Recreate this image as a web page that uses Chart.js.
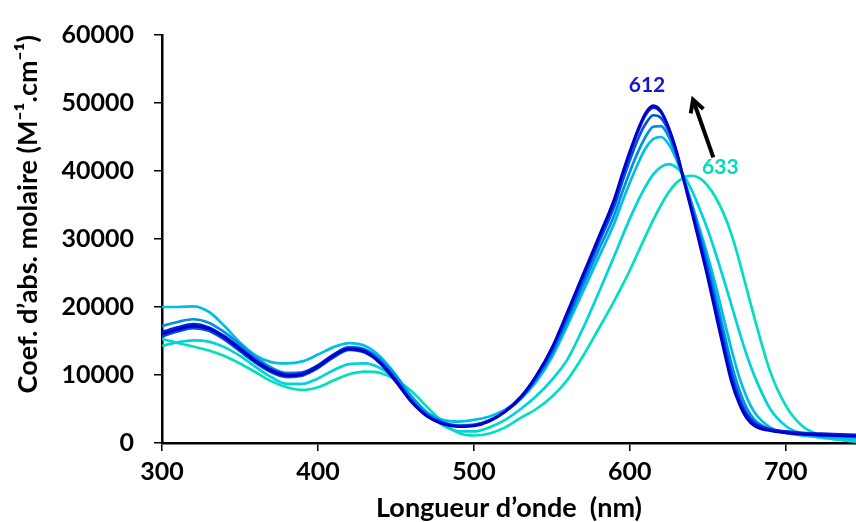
<!DOCTYPE html>
<html>
<head>
<meta charset="utf-8">
<script src="https://cdn.jsdelivr.net/npm/chart.js@4.4.1/dist/chart.umd.min.js"></script>
<style>
    body { margin: 0; background: #fff; }
    #wrap { width: 856px; height: 522px; }
</style>
</head>
<body>
<div id="wrap"><canvas id="uv-chart" width="856" height="522"></canvas></div>
<script>
// longueurs d'onde (nm)
const wavelengths = [
    300, 310, 320, 330, 340, 350, 360, 370, 380, 390, 400, 410, 420, 430, 440,
    450, 460, 470, 480, 490, 500, 510, 520, 530, 540, 550, 560, 570, 580,
    590, 595, 600, 605, 610, 615, 620, 625, 630, 635, 640, 645, 650, 655, 660,
    665, 670, 675, 680,
    690, 700, 710, 720, 730, 745
];

// coef. d'absorption molaire, du plus bleu (612 nm) au plus turquoise (633 nm)
const serie1 = [
    16000, 16700, 17200, 16800, 15500, 13800, 12000, 10600, 9900, 10100, 11200, 12800, 13800, 13400, 11700,
    9000, 6000, 3900, 2800, 2400, 2500, 3200, 4600, 6700, 9900, 14000, 19300, 24800, 30300,
    35900, 39500, 42900, 46000, 48500, 49600, 48800, 46300, 42700, 38200, 33700, 29000, 24200, 19000, 13900,
    9100, 5800, 3600, 2500,
    1800, 1500, 1300, 1200, 1100, 1000
];
const serie2 = [
    16300, 17000, 17500, 17000, 15700, 14000, 12200, 10800, 10100, 10300, 11400, 13000, 14000, 13600, 11900,
    9300, 6200, 4000, 2900, 2500, 2600, 3300, 4700, 6800, 9900, 13900, 19100, 24600, 30000,
    35600, 39200, 42600, 45700, 48200, 49300, 48600, 46300, 42900, 38400, 34000, 29400, 24600, 19500, 14400,
    9600, 6200, 4000, 2800,
    2000, 1700, 1500, 1400, 1300, 1200
];
const serie3 = [
    15700, 16400, 16900, 16500, 15200, 13500, 11800, 10400, 9700, 9900, 11000, 12600, 13700, 13300, 11800,
    9200, 6200, 4100, 3000, 2500, 2600, 3300, 4600, 6600, 9600, 13500, 18600, 24000, 29400,
    34800, 38300, 41600, 44600, 46900, 48200, 47800, 45800, 42500, 38500, 34300, 30000, 25300, 20300, 15300,
    10500, 6800, 4300, 3000,
    2000, 1600, 1400, 1200, 1100, 1000
];
const serie4 = [
    17200, 17800, 18200, 17700, 16300, 14500, 12600, 11100, 10300, 10400, 11400, 13000, 14100, 13800, 12300,
    9800, 6700, 4400, 3100, 2600, 2700, 3300, 4600, 6500, 9400, 13100, 18000, 23200, 28400,
    33500, 36800, 39900, 42700, 45000, 46500, 46600, 45000, 42100, 38600, 34800, 30700, 26400, 21600, 16600,
    11800, 7900, 5100, 3400,
    2000, 1500, 1300, 1100, 1000, 900
];
const serie5 = [
    20000, 20000, 20100, 19300, 17200, 14800, 12900, 11900, 11700, 12000, 13000, 14100, 14700, 14300, 12700,
    10000, 6900, 4500, 3400, 3150, 3400, 3900, 4900, 6500, 9000, 12600, 17300, 22300, 27300,
    32300, 35400, 38300, 41000, 43300, 44700, 45000, 43900, 41600, 38500, 35000, 31300, 27400, 23200, 18500,
    13900, 9800, 6700, 4500,
    2300, 1500, 1100, 900, 800, 700
];
const serie6 = [
    14300, 14800, 15100, 14900, 14100, 12800, 11200, 9700, 8700, 8700, 9500, 10700, 11600, 11700, 11000,
    9300, 6800, 4300, 2600, 1750, 1700, 2300, 3400, 5000, 6900, 9300, 12300, 16900, 22100,
    27500, 30300, 33000, 35500, 37700, 39500, 40600, 41000, 40500, 39200, 37000, 34300, 31300, 27900, 24200,
    20400, 16500, 12900, 9800,
    5000, 2500, 1400, 900, 600, 400
];
const serie7 = [
    15300, 14700, 14200, 13600, 12800, 11700, 10400, 9100, 8200, 7800, 8200, 9200, 10100, 10500, 10300,
    9300, 7600, 5300, 3100, 1500, 1100, 1400, 2300, 3700, 5000, 6800, 9300, 12800, 16800,
    20900, 23100, 25400, 27900, 30400, 32800, 35000, 36900, 38300, 39100, 39300, 38900, 37800, 36100, 33800,
    30800, 26900, 22600, 18300,
    10500, 5500, 2600, 1300, 600, 200
];

const seriesValues = [serie1, serie2, serie3, serie4, serie5, serie6, serie7];
const seriesColors = ['#0000C8', '#0022DC', '#0052DE', '#0090E2', '#00BEE6', '#00D4D8', '#00E0BE'];

const xTicks = [300, 400, 500, 600, 700];
const yTicks = [0, 10000, 20000, 30000, 40000, 50000, 60000];

// annotations : texte + position en unités des axes
const peakLabels = [
    { text: '612', nm: 611, value: 52600, color: '#1414CC' },
    { text: '633', nm: 658, value: 40500, color: '#00DDBB' }
];
const arrowFrom = { nm: 653.5, value: 42000 };
const arrowTo = { nm: 640.5, value: 50500 };

const FONT = 'Lato, "Open Sans", sans-serif';

const annotationPlugin = {
    id: 'peakNotes',
    afterDatasetsDraw(chart) {
        const { ctx, scales: { x, y } } = chart;
        ctx.save();
        ctx.font = 'bold 21px ' + FONT;
        ctx.textAlign = 'center';
        ctx.textBaseline = 'middle';
        peakLabels.forEach(p => {
            ctx.fillStyle = p.color;
            ctx.fillText(p.text, x.getPixelForValue(p.nm), y.getPixelForValue(p.value));
        });

        // flèche
        const x0 = x.getPixelForValue(arrowFrom.nm), y0 = y.getPixelForValue(arrowFrom.value);
        const x1 = x.getPixelForValue(arrowTo.nm), y1 = y.getPixelForValue(arrowTo.value);
        const ang = Math.atan2(y1 - y0, x1 - x0);
        ctx.strokeStyle = '#000';
        ctx.lineWidth = 4;
        ctx.beginPath();
        ctx.moveTo(x0, y0);
        ctx.lineTo(x1 - 2 * Math.cos(ang), y1 - 2 * Math.sin(ang));
        ctx.stroke();
        ctx.lineJoin = 'miter';
        ctx.beginPath();
        ctx.moveTo(x1 - 14 * Math.cos(ang - 0.5), y1 - 14 * Math.sin(ang - 0.5));
        ctx.lineTo(x1, y1);
        ctx.lineTo(x1 - 14 * Math.cos(ang + 0.5), y1 - 14 * Math.sin(ang + 0.5));
        ctx.stroke();
        ctx.restore();
    }
};

const datasets = seriesValues.map((vals, i) => ({
    label: 'spectre ' + (i + 1),
    data: wavelengths.map((nm, k) => ({ x: nm, y: vals[k] })),
    borderColor: seriesColors[i],
    borderWidth: 2.7,
    pointRadius: 0,
    cubicInterpolationMode: 'monotone',
    fill: false
}));

new Chart(document.getElementById('uv-chart'), {
    type: 'line',
    data: { datasets },
    options: {
        responsive: false,
        animation: false,
        layout: { padding: { top: 25, right: 0, left: 0, bottom: 0 } },
        plugins: { legend: { display: false }, tooltip: { enabled: false } },
        scales: {
            x: {
                type: 'linear',
                min: 300,
                max: 745,
                afterBuildTicks: axis => { axis.ticks = xTicks.map(v => ({ value: v })); },
                afterFit: axis => { axis.height = 79; },
                ticks: {
                    color: '#000',
                    font: { family: FONT, size: 25, weight: 'bold' },
                    padding: 6,
                    maxRotation: 0
                },
                grid: { drawOnChartArea: false, drawTicks: true, tickLength: 8, color: '#000', lineWidth: 1.5 },
                border: { color: '#000', width: 2.5 },
                title: {
                    display: true,
                    text: 'Longueur d’onde  (nm)',
                    color: '#000',
                    font: { family: FONT, size: 27, weight: 'bold' },
                    padding: { top: 0, bottom: -2 }
                }
            },
            y: {
                min: 0,
                max: 60000,
                afterBuildTicks: axis => { axis.ticks = yTicks.map(v => ({ value: v })); },
                afterFit: axis => { axis.width = 162; },
                ticks: {
                    color: '#000',
                    font: { family: FONT, size: 25, weight: 'bold' },
                    padding: 20,
                    callback: v => String(v)
                },
                grid: { drawOnChartArea: false, drawTicks: true, tickLength: 8, color: '#000', lineWidth: 1.5 },
                border: { color: '#000', width: 2.5 },
                title: {
                    display: true,
                    text: 'Coef. d’abs. molaire (M⁻¹.cm⁻¹)',
                    color: '#000',
                    align: 'end',
                    font: { family: FONT, size: 27, weight: 'bold' },
                    padding: { top: 12, bottom: 0 }
                }
            }
        }
    },
    plugins: [annotationPlugin]
});
</script>
</body>
</html>
